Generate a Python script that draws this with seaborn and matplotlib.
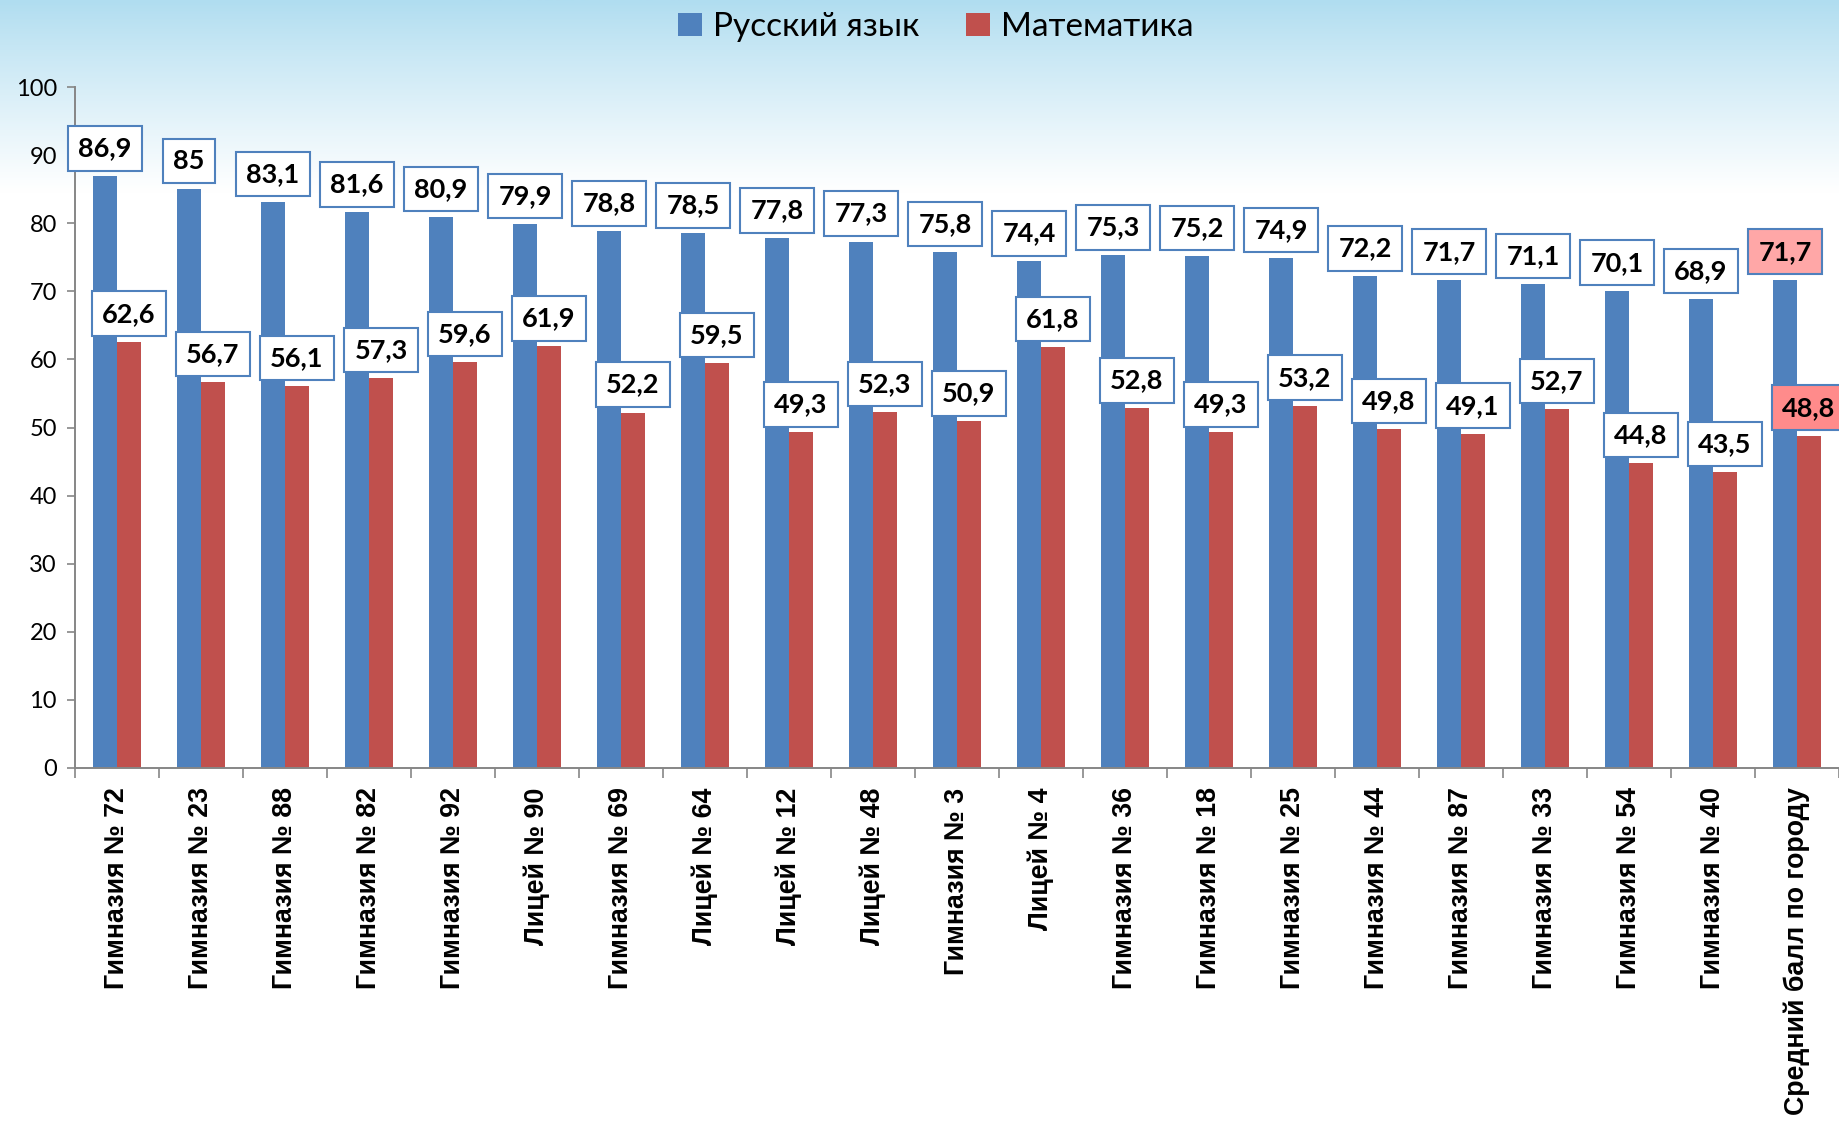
import numpy as np
import pandas as pd
import matplotlib
matplotlib.use("Agg")
import matplotlib.pyplot as plt
import seaborn as sns
from matplotlib.patches import Patch

categories = ["Гимназия № 72", "Гимназия № 23", "Гимназия № 88", "Гимназия № 82",
              "Гимназия № 92", "Лицей № 90", "Гимназия № 69", "Лицей № 64",
              "Лицей № 12", "Лицей № 48", "Гимназия № 3", "Лицей № 4",
              "Гимназия № 36", "Гимназия № 18", "Гимназия № 25", "Гимназия № 44",
              "Гимназия № 87", "Гимназия № 33", "Гимназия № 54", "Гимназия № 40",
              "Средний балл по городу"]
russian = [86.9, 85, 83.1, 81.6, 80.9, 79.9, 78.8, 78.5, 77.8, 77.3, 75.8,
           74.4, 75.3, 75.2, 74.9, 72.2, 71.7, 71.1, 70.1, 68.9, 71.7]
math = [62.6, 56.7, 56.1, 57.3, 59.6, 61.9, 52.2, 59.5, 49.3, 52.3, 50.9,
        61.8, 52.8, 49.3, 53.2, 49.8, 49.1, 52.7, 44.8, 43.5, 48.8]
series_names = ["Русский язык", "Математика"]
yticks = [0, 10, 20, 30, 40, 50, 60, 70, 80, 90, 100]

BLUE = "#4F81BD"
RED = "#C0504D"
GRAY = "#868686"

df = pd.DataFrame({
    "cat": categories * 2,
    "subj": [series_names[0]] * len(categories) + [series_names[1]] * len(categories),
    "val": russian + math,
})

W, H = 1839, 1126
fig = plt.figure(figsize=(W / 100, H / 100), dpi=100)
fig.patch.set_facecolor("white")

# background gradient
bg = fig.add_axes([0, 0, 1, 1], zorder=-10)
ny = 400
ypix = np.linspace(0, H, ny)
t = np.clip(ypix / 190.0, 0, 1) ** 0.9
top = np.array([0xB0, 0xDD, 0xF0]) / 255.0
white = np.ones(3)
cols = top[None, :] * (1 - t[:, None]) + white[None, :] * t[:, None]
img = np.repeat(cols[:, None, :], 2, axis=1)
bg.imshow(img, aspect="auto", extent=[0, 1, 0, 1], origin="upper")
bg.axis("off")

ax = fig.add_axes([75 / W, 1 - 768 / H, 1 - 75 / W, (768 - 87) / H])
ax.set_facecolor("none")

sns.barplot(data=df, x="cat", y="val", hue="subj", order=categories,
            hue_order=series_names, palette=[BLUE, RED], saturation=1,
            width=0.57, ax=ax, legend=False, errorbar=None, linewidth=0)

ax.set_ylim(0, 100)
ax.set_xlim(-0.5, len(categories) - 0.5)
ax.set_yticks(yticks)
ax.set_yticklabels([str(v) for v in yticks], fontsize=17, family=["Lato", "DejaVu Sans"])
ax.set_xlabel("")
ax.set_ylabel("")

ax.set_xticks(range(len(categories)))
ax.set_xticklabels(categories, rotation=90, fontsize=19.3, fontweight="bold",
                   family=["Liberation Sans", "DejaVu Sans"], ha="center", va="top")
ax.set_xticks(np.arange(-0.5, len(categories), 1), minor=True)
ax.tick_params(axis="x", which="major", length=0, pad=14)
ax.tick_params(axis="x", which="minor", length=7.5, width=1.2, color=GRAY, direction="out")
ax.tick_params(axis="y", which="major", length=6, width=1.2, color=GRAY, pad=7, direction="out")

for s in ["top", "right"]:
    ax.spines[s].set_visible(False)
for s in ["left", "bottom"]:
    ax.spines[s].set_color(GRAY)
    ax.spines[s].set_linewidth(1.4)

def fmt(v):
    return f"{v:g}".replace(".", ",")

n = len(categories)
fills = ["#FFA7A7", "#FF8B8B"]
for si, cont in enumerate(ax.containers):
    for i, bar in enumerate(cont):
        xc = bar.get_x() + bar.get_width() / 2
        h = bar.get_height()
        face = fills[si] if i == n - 1 else "white"
        ax.annotate(fmt(h), xy=(xc, h), xytext=(0, 11.5), textcoords="offset points",
                    ha="center", va="bottom", fontsize=19.5, fontweight="bold",
                    family=["Lato", "DejaVu Sans"], color="black", zorder=5,
                    bbox=dict(boxstyle="square,pad=0.38", facecolor=face,
                              edgecolor=BLUE, linewidth=1.5))

handles = [Patch(facecolor=BLUE, edgecolor="none"), Patch(facecolor=RED, edgecolor="none")]
fig.legend(handles, series_names, loc="center", bbox_to_anchor=(936 / W, 1 - 27 / H),
           ncol=2, frameon=False, prop={"family": ["Lato", "Noto Sans"], "size": 24},
           handlelength=0.7, handleheight=0.7, handletextpad=0.35, columnspacing=1.4)

fig.savefig("out.png", dpi=100)
